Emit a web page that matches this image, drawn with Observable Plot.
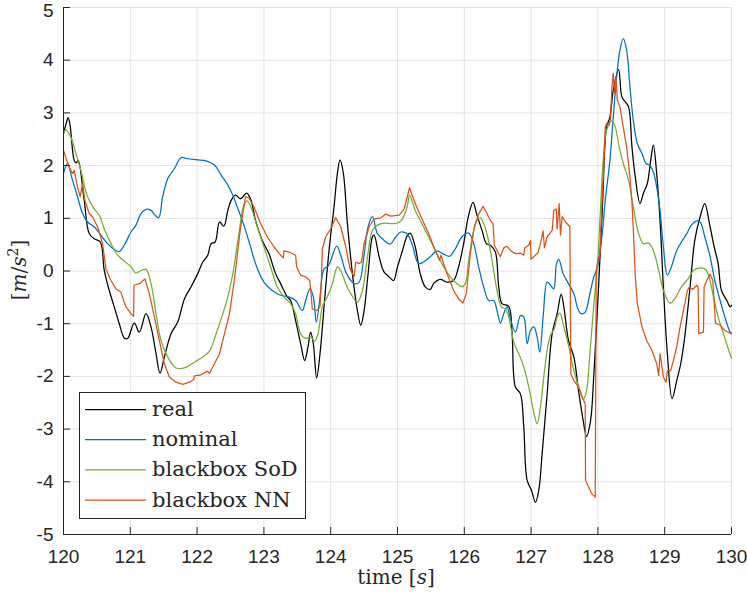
<!DOCTYPE html>
<html>
<head>
<meta charset="utf-8">
<script src="https://cdn.jsdelivr.net/npm/d3@7"></script>
<script src="https://cdn.jsdelivr.net/npm/@observablehq/plot@0.6"></script>
<style>
  html, body { margin: 0; padding: 0; background: #fff; }
  #chart { width: 747px; height: 598px; }
</style>
</head>
<body>
<div id="chart"></div>
<script>
const xTicks = [120,121,122,123,124,125,126,127,128,129,130];
const yTicks = [-5,-4,-3,-2,-1,0,1,2,3,4,5];
const seriesNames = ["real", "nominal", "blackbox SoD", "blackbox NN"];
const seriesColors = ["#000000", "#0072BD", "#77AC30", "#D95319"];

const realT = [120.0,120.04,120.07,120.1,120.16,120.19,120.22,120.31,120.385,120.46,120.55,120.61,120.685,120.76,120.835,120.91,120.96,121.06,121.135,121.235,121.31,121.385,121.445,121.51,121.61,121.71,121.81,121.91,122.01,122.085,122.16,122.21,122.27,122.335,122.4,122.46,122.51,122.575,122.65,122.74,122.8,122.875,122.975,123.075,123.175,123.25,123.35,123.4,123.475,123.55,123.61,123.66,123.7,123.74,123.79,123.84,123.9,123.975,124.05,124.1,124.14,124.19,124.25,124.325,124.4,124.45,124.5,124.56,124.625,124.65,124.725,124.8,124.875,124.94,125.0,125.075,125.15,125.19,125.265,125.34,125.415,125.49,125.54,125.64,125.74,125.84,125.915,125.99,126.065,126.13,126.19,126.265,126.33,126.39,126.465,126.515,126.565,126.665,126.715,126.765,126.84,126.89,126.94,127.005,127.065,127.115,127.165,127.24,127.315,127.39,127.45,127.49,127.56,127.64,127.71,127.78,127.83,127.89,127.94,128.01,128.07,128.13,128.18,128.23,128.31,128.36,128.41,128.46,128.51,128.56,128.63,128.68,128.74,128.79,128.83,128.88,128.93,128.98,129.04,129.11,129.18,129.24,129.3,129.38,129.45,129.53,129.6,129.67,129.74,129.8,129.85,129.93,129.98,130.0];
const realV = [2.6,2.8,2.91,2.75,2.1,2.05,2.1,1.34,0.71,0.61,0.55,0.01,-0.37,-0.68,-1.0,-1.27,-1.28,-0.99,-1.16,-0.81,-1.06,-1.57,-1.94,-1.63,-1.19,-0.97,-0.53,-0.3,-0.05,0.17,0.3,0.52,0.55,0.93,0.85,1.15,1.34,1.44,1.37,1.48,1.37,0.96,0.58,0.33,-0.05,-0.24,-0.49,-0.56,-0.94,-1.38,-1.7,-1.44,-1.16,-1.38,-2.03,-1.57,-0.68,0.39,1.22,1.85,2.11,1.85,0.9,-0.05,-0.75,-1.03,-0.75,-0.05,0.65,0.68,0.27,-0.02,-0.11,-0.18,0.08,0.39,0.68,0.72,0.46,-0.05,-0.3,-0.35,-0.24,-0.16,-0.21,-0.18,0.08,0.52,1.06,1.3,1.06,0.77,0.52,0.49,0.36,-0.3,-0.62,-0.67,-1.19,-2.2,-2.33,-2.96,-3.97,-4.16,-4.39,-4.16,-3.47,-2.33,-1.19,-0.81,-0.44,-0.68,-1.32,-1.63,-2.27,-2.84,-3.14,-2.84,-1.95,-0.3,1.28,2.73,2.92,3.43,3.82,3.3,3.21,3.11,2.35,1.78,1.28,1.47,1.66,2.1,2.39,1.85,0.96,-0.3,-1.57,-2.42,-2.08,-1.76,-1.25,-0.3,0.58,1.03,1.28,0.9,0.46,0.14,-0.37,-0.56,-0.68,-0.65];

const nominalT = [120.0,120.06,120.135,120.21,120.285,120.36,120.46,120.56,120.66,120.76,120.835,120.91,121.01,121.085,121.16,121.235,121.31,121.37,121.425,121.485,121.56,121.66,121.76,121.86,122.01,122.135,122.26,122.36,122.46,122.53,122.6,122.7,122.8,122.875,123.0,123.125,123.25,123.375,123.475,123.575,123.625,123.69,123.74,123.785,123.84,123.9,123.96,124.0,124.09,124.15,124.225,124.3,124.35,124.425,124.5,124.56,124.625,124.7,124.8,124.89,124.975,125.05,125.14,125.215,125.315,125.39,125.49,125.59,125.69,125.78,125.865,125.965,126.065,126.14,126.215,126.29,126.365,126.44,126.49,126.54,126.59,126.64,126.69,126.765,126.84,126.89,126.94,126.99,127.04,127.09,127.13,127.18,127.24,127.29,127.34,127.38,127.415,127.48,127.56,127.64,127.7,127.75,127.81,127.88,127.94,127.995,128.06,128.11,128.18,128.23,128.28,128.33,128.38,128.43,128.48,128.53,128.59,128.66,128.72,128.77,128.83,128.88,128.93,128.98,129.04,129.1,129.18,129.25,129.33,129.4,129.48,129.53,129.6,129.68,129.75,129.83,129.9,129.98,130.0];
const nominalV = [1.85,2.04,1.72,1.41,1.09,0.93,0.84,0.68,0.52,0.41,0.37,0.49,0.74,0.87,1.09,1.17,1.15,1.06,1.01,1.41,1.75,1.94,2.15,2.13,2.11,2.09,2.01,1.82,1.63,1.45,1.22,0.87,0.46,0.14,-0.21,-0.37,-0.46,-0.49,-0.56,-0.75,-0.56,-0.34,-0.49,-0.97,-0.49,0.04,0.09,0.2,0.47,0.3,-0.02,-0.18,-0.24,-0.21,0.3,0.84,1.03,0.71,0.58,0.51,0.65,0.74,0.71,0.52,0.14,0.17,0.27,0.38,0.32,0.28,0.42,0.65,0.72,0.52,0.08,-0.3,-0.56,-0.56,-0.75,-0.99,-0.81,-0.68,-0.91,-1.16,-0.85,-0.87,-1.38,-1.13,-1.06,-1.25,-1.54,-0.87,-0.21,-0.27,-0.34,0.14,0.22,-0.05,-0.24,-0.43,-0.72,-0.81,-0.78,-0.43,-0.11,0.08,0.65,1.34,2.1,2.92,3.68,4.19,4.41,4.19,3.49,2.86,2.42,2.23,2.04,2.01,1.88,1.59,1.15,0.46,-0.08,0.08,0.39,0.55,0.71,0.87,0.95,0.93,0.65,0.27,-0.18,-0.56,-0.87,-1.16,-1.18];

const sodT = [120.0,120.035,120.11,120.185,120.26,120.36,120.46,120.535,120.61,120.71,120.81,120.91,121.01,121.085,121.16,121.235,121.31,121.385,121.46,121.56,121.685,121.81,121.96,122.085,122.185,122.285,122.385,122.46,122.535,122.625,122.7,122.75,122.825,122.9,123.0,123.1,123.2,123.3,123.4,123.475,123.55,123.625,123.7,123.76,123.81,123.875,123.95,124.025,124.1,124.15,124.225,124.3,124.4,124.475,124.55,124.625,124.7,124.8,124.9,125.0,125.075,125.15,125.18,125.265,125.365,125.465,125.565,125.665,125.79,125.89,125.965,126.015,126.065,126.13,126.19,126.24,126.29,126.35,126.415,126.49,126.555,126.615,126.665,126.74,126.815,126.89,126.965,127.04,127.09,127.14,127.19,127.24,127.29,127.35,127.39,127.43,127.49,127.565,127.64,127.73,127.78,127.83,127.88,127.94,127.995,128.03,128.08,128.13,128.21,128.26,128.32,128.38,128.46,128.53,128.61,128.68,128.76,128.83,128.91,128.98,129.08,129.15,129.25,129.35,129.43,129.53,129.6,129.65,129.73,129.8,129.88,129.95,130.0];
const sodV = [2.61,2.68,2.54,2.23,1.91,1.41,1.18,1.06,0.8,0.52,0.3,0.19,0.08,-0.04,0.01,0.03,-0.24,-0.81,-1.32,-1.63,-1.84,-1.84,-1.73,-1.63,-1.52,-1.19,-0.81,-0.49,-0.05,0.7,1.25,1.33,1.15,0.84,0.46,0.08,-0.3,-0.49,-0.62,-0.81,-1.19,-1.28,-1.25,-1.33,-1.19,-0.68,-0.49,-0.24,0.08,0.01,-0.24,-0.43,-0.59,-0.37,0.27,0.77,0.87,0.91,0.9,0.91,0.99,1.25,1.44,1.15,0.9,0.65,0.39,0.14,-0.11,-0.24,-0.3,-0.24,0.2,0.71,0.96,1.01,0.9,0.65,0.2,-0.37,-0.68,-0.72,-0.87,-1.35,-1.57,-1.82,-2.2,-2.68,-2.9,-2.58,-2.01,-1.51,-1.22,-1.09,-0.87,-0.8,-1.06,-1.44,-1.89,-2.27,-2.44,-2.27,-1.57,-0.62,0.14,0.96,2.1,2.67,2.85,2.73,2.35,2.04,1.72,1.22,0.71,0.52,0.53,0.39,0.01,-0.37,-0.61,-0.53,-0.3,-0.15,0.01,0.06,0.04,-0.05,-0.49,-0.87,-1.19,-1.47,-1.66];

const nnT = [120.0,120.04,120.085,120.135,120.16,120.21,120.25,120.285,120.32,120.385,120.435,120.51,120.585,120.635,120.71,120.785,120.86,120.9,120.935,121.01,121.05,121.055,121.135,121.22,121.285,121.36,121.435,121.51,121.585,121.685,121.785,121.885,121.95,121.96,122.06,122.15,122.185,122.26,122.335,122.41,122.485,122.56,122.65,122.725,122.775,122.85,122.95,123.05,123.15,123.25,123.29,123.3,123.375,123.475,123.49,123.55,123.625,123.685,123.7,123.725,123.79,123.84,123.86,123.875,123.925,124.0,124.075,124.15,124.225,124.29,124.35,124.375,124.425,124.46,124.5,124.575,124.65,124.75,124.825,124.9,125.025,125.1,125.18,125.265,125.365,125.465,125.565,125.63,125.65,125.74,125.84,125.915,125.98,126.03,126.09,126.15,126.215,126.28,126.34,126.39,126.43,126.45,126.49,126.54,126.59,126.64,126.69,126.765,126.84,126.89,126.905,126.965,126.99,127.0,127.04,127.1,127.14,127.18,127.2,127.24,127.315,127.34,127.375,127.39,127.42,127.44,127.465,127.515,127.58,127.595,127.64,127.71,127.79,127.81,127.815,127.86,127.91,127.96,127.975,128.0,128.03,128.06,128.09,128.11,128.13,128.17,128.19,128.21,128.23,128.25,128.27,128.29,128.33,128.38,128.43,128.48,128.51,128.535,128.56,128.59,128.66,128.73,128.81,128.88,128.91,128.93,128.96,128.98,129.02,129.04,129.09,129.13,129.18,129.23,129.28,129.34,129.37,129.42,129.48,129.5,129.51,129.58,129.59,129.63,129.68,129.72,129.76,129.83,129.9,129.98,130.0];
const nnV = [2.29,2.13,1.97,1.85,1.91,1.59,1.41,1.66,1.34,1.09,1.03,0.84,0.52,0.04,-0.18,-0.34,-0.4,-0.56,-0.68,-0.81,-0.86,-0.27,-0.24,-0.15,-0.43,-0.87,-1.32,-1.76,-2.01,-2.11,-2.15,-2.11,-2.06,-1.99,-1.97,-1.9,-1.94,-1.76,-1.57,-1.19,-0.81,-0.15,0.82,1.41,1.39,1.22,0.9,0.65,0.46,0.3,0.25,0.38,0.36,0.3,0.08,-0.08,-0.11,-0.18,-0.34,-0.72,-0.75,-0.68,-0.18,0.42,0.65,0.8,1.01,0.84,0.46,0.04,-0.11,0.17,0.14,0.17,0.52,0.84,0.99,1.01,1.08,1.04,1.06,1.18,1.58,1.28,0.99,0.71,0.39,0.2,0.3,-0.05,-0.37,-0.53,-0.61,-0.43,0.33,0.84,1.08,1.23,1.09,0.96,0.9,0.49,0.39,0.27,0.44,0.47,0.39,0.33,0.34,0.3,0.44,0.49,0.58,0.22,0.27,0.34,0.52,0.76,0.44,0.65,0.77,1.15,1.18,0.8,1.28,0.68,1.03,0.93,0.84,-1.95,-2.08,-2.2,-2.46,-2.52,-3.97,-4.1,-4.23,-4.29,0.01,0.2,0.33,1.28,2.04,2.73,2.8,2.77,2.92,3.49,3.75,3.37,3.68,3.24,3.11,2.73,2.35,1.78,1.3,0.65,-0.1,-0.62,-1.06,-1.32,-1.51,-1.76,-1.98,-1.57,-1.82,-2.01,-2.11,-1.89,-1.89,-1.7,-1.44,-1.06,-0.75,-0.37,-0.3,-0.35,-0.27,-0.3,-1.19,-1.16,-0.3,-0.18,-0.06,-0.18,-0.99,-1.03,-1.13,-1.18,-1.19];

const toRows = (T, V) => T.map((t, i) => ({t, v: V[i]}));
const series = [
  {rows: toRows(realT, realV), curve: "catmull-rom"},
  {rows: toRows(nominalT, nominalV), curve: "catmull-rom"},
  {rows: toRows(sodT, sodV), curve: "catmull-rom"},
  {rows: toRows(nnT, nnV), curve: "linear"}
];

const W = 747, H = 598, mL = 63, mR = 16, mT = 7, mB = 64;
const innerW = W - mL - mR, innerH = H - mT - mB;
const axisColor = "#262626";
const gridColor = "#e3e3e3";
const tickLen = 7;
const yMax = yTicks[yTicks.length - 1];

const chart = Plot.plot({
  width: W, height: H,
  marginLeft: mL, marginRight: mR, marginTop: mT, marginBottom: mB,
  style: {fontFamily: "'Liberation Sans', Arial, sans-serif", color: axisColor, background: "#fff", overflow: "visible"},
  x: {domain: [120, 130]},
  y: {domain: [-5, 5]},
  marks: [
    Plot.gridX(xTicks, {stroke: gridColor, strokeOpacity: 1}),
    Plot.gridY(yTicks, {stroke: gridColor, strokeOpacity: 1}),
    ...series.map((s, i) => Plot.line(s.rows, {x: "t", y: "v", stroke: seriesColors[i], strokeWidth: 1.25, curve: s.curve})),
    Plot.ruleX(xTicks, {insetTop: innerH - tickLen, stroke: axisColor}),
    Plot.ruleY(yTicks, {insetRight: innerW - tickLen, stroke: axisColor}),
    Plot.ruleX([120], {stroke: axisColor}),
    Plot.ruleY([-5], {stroke: axisColor}),
    Plot.axisX(xTicks, {tickSize: 0, tickPadding: 15, fontSize: 19, label: null, tickFormat: d => String(d), fill: axisColor}),
    Plot.axisY(yTicks.filter(d => d < yMax), {tickSize: 0, tickPadding: 10, fontSize: 19, label: null, tickFormat: d => String(d), fill: axisColor}),
    Plot.axisY([yMax], {tickSize: 0, tickPadding: 10, fontSize: 19, label: null, tickFormat: d => String(d), fill: axisColor, dy: 3})
  ]
});
document.getElementById("chart").appendChild(chart);

// Axis labels and legend (serif, LaTeX-like)
const svg = d3.select(chart);
const serif = "'DejaVu Serif', 'Liberation Serif', serif";

const xl = svg.append("text")
  .attr("x", 396).attr("y", 584)
  .attr("text-anchor", "middle")
  .attr("font-family", serif).attr("font-size", 20).attr("fill", axisColor);
xl.append("tspan").text("time [");
xl.append("tspan").attr("font-style", "italic").text("s");
xl.append("tspan").text("]");

const yl = svg.append("text")
  .attr("transform", "translate(26,270) rotate(-90)")
  .attr("text-anchor", "middle")
  .attr("font-family", serif).attr("font-size", 20).attr("fill", axisColor);
yl.append("tspan").text("[");
yl.append("tspan").attr("font-style", "italic").text("m");
yl.append("tspan").text("/");
yl.append("tspan").attr("font-style", "italic").text("s");
yl.append("tspan").attr("font-size", 14).attr("dy", -8).text("2");
yl.append("tspan").attr("dy", 8).text("]");

const lg = svg.append("g").attr("transform", "translate(79,392)");
lg.append("rect").attr("x", 0.5).attr("y", 0.5).attr("width", 226).attr("height", 126)
  .attr("fill", "#fff").attr("stroke", axisColor).attr("stroke-width", 1);
seriesNames.forEach((name, i) => {
  const cy = 17.5 + i * 30.2;
  lg.append("line").attr("x1", 6).attr("x2", 67).attr("y1", cy).attr("y2", cy)
    .attr("stroke", seriesColors[i]).attr("stroke-width", 1.25);
  lg.append("text").attr("x", 73).attr("y", cy + 6.5)
    .attr("text-anchor", "start")
    .attr("font-family", serif).attr("font-size", 21).attr("fill", axisColor)
    .text(name);
});
</script>
</body>
</html>
